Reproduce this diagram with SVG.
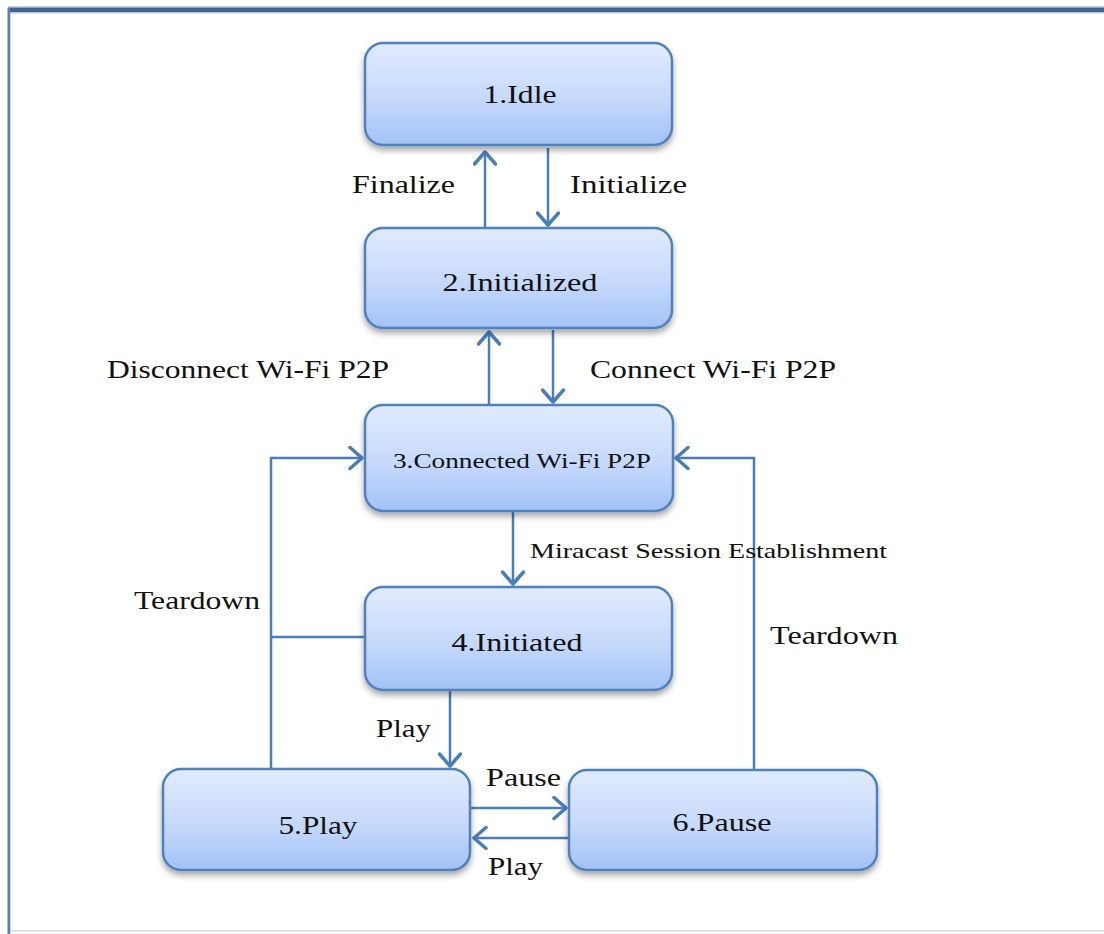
<svg xmlns="http://www.w3.org/2000/svg" width="1104" height="934" viewBox="0 0 1104 934">
<defs>
<linearGradient id="g" x1="0" y1="0" x2="0" y2="1">
<stop offset="0" stop-color="#e1ebfd"/>
<stop offset="0.55" stop-color="#c6d9fb"/>
<stop offset="1" stop-color="#a2c2f6"/>
</linearGradient>
<filter id="sh" x="-10%" y="-10%" width="120%" height="130%">
<feDropShadow dx="0" dy="4" stdDeviation="3" flood-color="#000" flood-opacity="0.35"/>
</filter>
<marker id="arr" viewBox="0 0 16 24" refX="14" refY="12" markerWidth="16" markerHeight="24" orient="auto" markerUnits="userSpaceOnUse">
<path d="M2,1.5 L14,12 L2,22.5" fill="none" stroke="#4a7ebb" stroke-width="3.5" stroke-linecap="round" stroke-linejoin="round"/>
</marker>
</defs>
<style>
.box{fill:url(#g);stroke:#4f81bd;stroke-width:2.5;filter:url(#sh)}
.t{font-family:"Liberation Serif","Times New Roman",serif;font-size:25px;fill:#111;text-anchor:middle}
.l{font-family:"Liberation Serif","Times New Roman",serif;font-size:25px;fill:#111}
.c{fill:none;stroke:#4a7ebb;stroke-width:2.5}
</style>
<rect width="1104" height="934" fill="#fff"/>
<rect x="8" y="6" width="1096" height="1.5" fill="#c9d3e0"/>
<rect x="8" y="7.5" width="1096" height="5" fill="#3d6391"/>
<rect x="8" y="12.5" width="1096" height="1.2" fill="#d3dbe6"/>
<rect x="7.5" y="8" width="2.8" height="926" fill="#5b7fae"/>
<rect x="10" y="930" width="1094" height="1.5" fill="#dddddd"/>

<g id="connectors">
<path class="c" d="M485,228 V152" marker-end="url(#arr)"/>
<path class="c" d="M548,148 V225" marker-end="url(#arr)"/>
<path class="c" d="M489,405 V332" marker-end="url(#arr)"/>
<path class="c" d="M553,330 V402" marker-end="url(#arr)"/>
<path class="c" d="M513,512 V584" marker-end="url(#arr)"/>
<path class="c" d="M450,690 V766" marker-end="url(#arr)"/>
<path class="c" d="M471,808 H566" marker-end="url(#arr)"/>
<path class="c" d="M569,838 H474" marker-end="url(#arr)"/>
<path class="c" d="M271,769 V458 H362" marker-end="url(#arr)"/>
<path class="c" d="M365,637 H271"/>
<path class="c" d="M754,770 V458 H676" marker-end="url(#arr)"/>
<text class="l" x="352" y="193" textLength="103" lengthAdjust="spacingAndGlyphs">Finalize</text>
<text class="l" x="570" y="193" textLength="117" lengthAdjust="spacingAndGlyphs">Initialize</text>
<text class="l" x="107" y="378" textLength="282" lengthAdjust="spacingAndGlyphs">Disconnect Wi-Fi P2P</text>
<text class="l" x="590" y="378" textLength="246" lengthAdjust="spacingAndGlyphs">Connect Wi-Fi P2P</text>
<text class="l" x="530" y="558" style="font-size:22px" textLength="357" lengthAdjust="spacingAndGlyphs">Miracast Session Establishment</text>
<text class="l" x="134" y="609" textLength="126" lengthAdjust="spacingAndGlyphs">Teardown</text>
<text class="l" x="770" y="644" textLength="128" lengthAdjust="spacingAndGlyphs">Teardown</text>
<text class="l" x="376" y="737" textLength="55" lengthAdjust="spacingAndGlyphs">Play</text>
<text class="l" x="486" y="786" textLength="75" lengthAdjust="spacingAndGlyphs">Pause</text>
<text class="l" x="488" y="875" textLength="55" lengthAdjust="spacingAndGlyphs">Play</text>
</g>

<g id="n1"><rect class="box" x="365" y="43" width="307" height="102" rx="18"/><text class="t" x="520" y="103" textLength="73" lengthAdjust="spacingAndGlyphs">1.Idle</text></g>
<g id="n2"><rect class="box" x="365" y="228" width="307" height="100" rx="18"/><text class="t" x="520" y="291" textLength="155" lengthAdjust="spacingAndGlyphs">2.Initialized</text></g>
<g id="n3"><rect class="box" x="365" y="405" width="308" height="106" rx="18"/><text class="t" x="522" y="468" style="font-size:22px" textLength="258" lengthAdjust="spacingAndGlyphs">3.Connected Wi-Fi P2P</text></g>
<g id="n4"><rect class="box" x="365" y="587" width="307" height="103" rx="18"/><text class="t" x="517" y="651" textLength="131" lengthAdjust="spacingAndGlyphs">4.Initiated</text></g>
<g id="n5"><rect class="box" x="163" y="769" width="307" height="101" rx="18"/><text class="t" x="318" y="834" textLength="79" lengthAdjust="spacingAndGlyphs">5.Play</text></g>
<g id="n6"><rect class="box" x="569" y="770" width="308" height="100" rx="18"/><text class="t" x="722" y="831" textLength="99" lengthAdjust="spacingAndGlyphs">6.Pause</text></g>
</svg>
